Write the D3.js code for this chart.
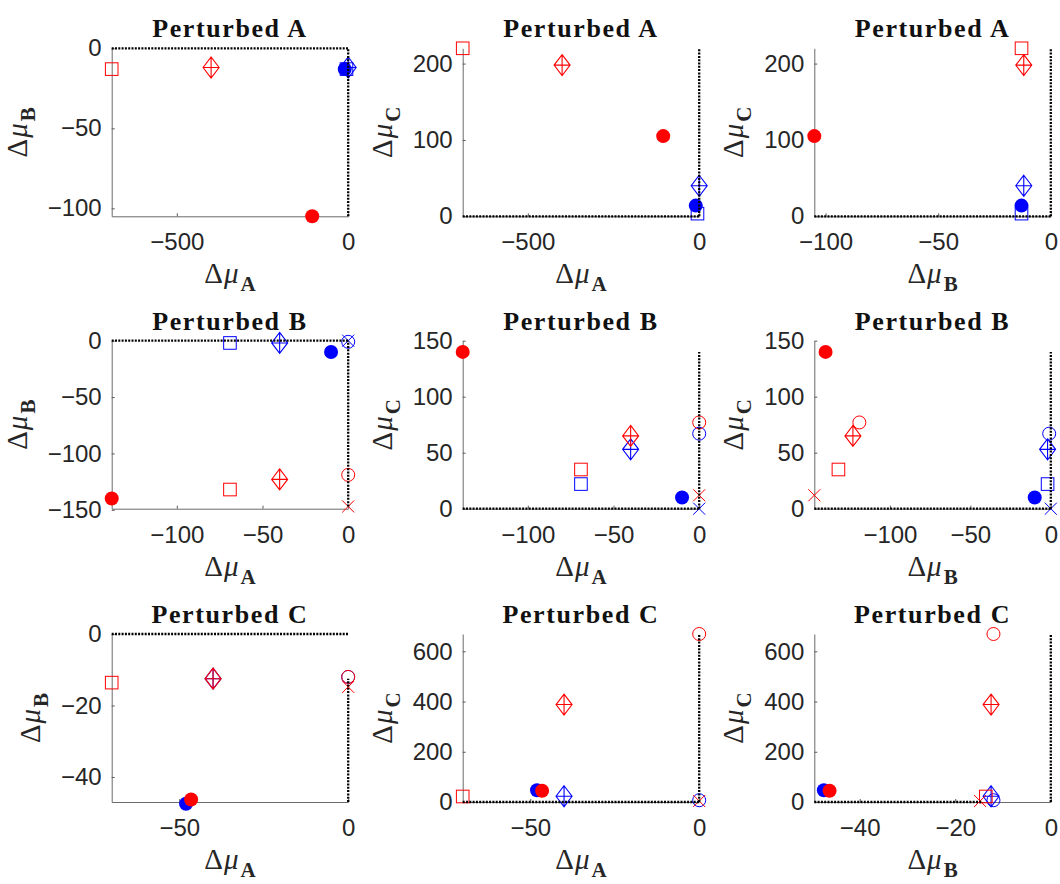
<!DOCTYPE html>
<html>
<head>
<meta charset="utf-8">
<script src="https://cdn.jsdelivr.net/npm/d3@7"></script>
<style>
    body { margin: 0; background: #fff; }
    .tick text { font-family: "Liberation Sans", Arial, sans-serif; font-size: 24px; fill: #262626; }
    .tick line { stroke: #5a5a5a; }
    .domain { stroke: #6a6a6a; }
    .title { font-family: "Liberation Serif", "Times New Roman", serif; font-weight: bold; font-size: 26px; letter-spacing: 1.6px; fill: #111; }
    .label { font-family: "Liberation Serif", "Times New Roman", serif; font-size: 29px; fill: #262626; }
</style>
</head>
<body>
<div id="chart"></div>
<script>
// Data
// ============================================================================
const titles = ["Perturbed A", "Perturbed B", "Perturbed C"];
// which two of A, B, C go on x and y in each column
const pairs = [["A", "B"], ["A", "C"], ["B", "C"]];

// Perturbed A
const markersA = ["blue-filled", "blue-square", "blue-diamond", "red-filled", "red-square", "red-diamond"];
const dMuA_A = [-10, -5, 0, -105, -690, -400];
const dMuB_A = [-13, -13, -12, -105, -13, -12];
const dMuC_A = [14, 3.5, 40, 105, 220, 198];

// Perturbed B
const markersB = ["blue-filled", "blue-circle", "blue-square", "blue-diamond", "blue-cross",
                  "red-filled", "red-circle", "red-square", "red-diamond", "red-cross"];
const dMuA_B = [-10, 0, -69, -40, 0, -138, 0, -69, -40, 0];
const dMuB_B = [-10, -1, -2, -2, 0, -140, -119, -132, -123, -147];
const dMuC_B = [10, 67, 22, 53, 0, 140, 77, 35, 65, 12];

// Perturbed C
const markersC = ["blue-filled", "blue-circle", "blue-diamond",
                  "red-filled", "red-circle", "red-square", "red-diamond", "red-cross"];
const dMuA_C = [-48, 0, -40, -46.5, 0, -70, -40, 0];
const dMuB_C = [-47.5, -12, -12.5, -46.3, -12, -13.6, -12.5, -14.8];
const dMuC_C = [47, 7, 23, 45, 669, 22, 388, 4];

// axis limits, ticks and dotted zero lines, panel by panel (row major)
const xLims = [[-690, 0], [-690, 0], [-105, 0],
               [-138, 0], [-138, 0], [-147, 0],
               [-70, 0], [-70, 0], [-49.5, 0]];
const yLims = [[-105, 0], [0, 220], [0, 220],
               [-149, 0], [0, 150], [0, 150],
               [-47, 0], [0, 669], [0, 669]];
const xTicks = [[-500, 0], [-500, 0], [-100, -50, 0],
                [-100, -50, 0], [-100, -50, 0], [-100, -50, 0],
                [-50, 0], [-50, 0], [-40, -20, 0]];
const yTicks = [[-100, -50, 0], [0, 100, 200], [0, 100, 200],
                [-150, -100, -50, 0], [0, 50, 100, 150], [0, 50, 100, 150],
                [-40, -20, 0], [0, 200, 400, 600], [0, 200, 400, 600]];
// x extent of the dotted line y = 0, and y extent of the dotted line x = 0
const zeroH = [[-690, 0], [-690, 0], [-105, 0],
               [-138, 0], [-138, 0], [-147, 0],
               [-70, 0], [-70, 0], [-49.5, -14.5]];
const zeroV = [[-105, 0], [0, 220], [0, 220],
               [-147, 0], [0, 140], [0, 140],
               [-47, -12.5], [0, 669], [0, 669]];

const markers = [markersA, markersB, markersC];
const values = [
    {A: dMuA_A, B: dMuB_A, C: dMuC_A},
    {A: dMuA_B, B: dMuB_B, C: dMuC_B},
    {A: dMuA_C, B: dMuB_C, C: dMuC_C},
];

// Layout
// ============================================================================
const colLeft = [111.7, 462.7, 814.3],
    rowTop = [48.3, 340.7, 634],
    plotW = 236.5,
    plotH = 168;

const colors = {red: "#ff0000", blue: "#0000ff"};

let svg = d3.select("#chart")
    .append("svg")
        .attr("width", 1060)
        .attr("height", 884);

function drawMarker(g, kind, cx, cy) {
    const [color, shape] = kind.split("-");
    const c = colors[color];
    if (shape === "filled") {
        g.append("circle").attr("cx", cx).attr("cy", cy).attr("r", 7).attr("fill", c);
    } else if (shape === "circle") {
        g.append("circle").attr("cx", cx).attr("cy", cy).attr("r", 6.5)
            .attr("fill", "none").attr("stroke", c).attr("stroke-width", 1);
    } else if (shape === "square") {
        g.append("rect").attr("x", cx - 6.3).attr("y", cy - 6.3).attr("width", 12.6).attr("height", 12.6)
            .attr("fill", "none").attr("stroke", c).attr("stroke-width", 1);
    } else if (shape === "diamond") {
        const w = 8, h = 10.5;
        g.append("path")
            .attr("d", `M${cx},${cy - h}L${cx + w},${cy}L${cx},${cy + h}L${cx - w},${cy}Z` +
                       `M${cx},${cy - h}V${cy + h}M${cx - w},${cy}H${cx + w}`)
            .attr("fill", "none").attr("stroke", c).attr("stroke-width", 1.1);
    } else if (shape === "cross") {
        const s = 6;
        g.append("path")
            .attr("d", `M${cx - s},${cy - s}L${cx + s},${cy + s}M${cx - s},${cy + s}L${cx + s},${cy - s}`)
            .attr("fill", "none").attr("stroke", c).attr("stroke-width", 1);
    }
}

function axisLabel(text, sub) {
    text.append("tspan").text("\u0394");
    text.append("tspan").attr("font-style", "italic").attr("dx", 1).text("\u03bc");
    text.append("tspan").attr("font-weight", "bold").attr("font-size", "21px")
        .attr("dx", 2).attr("dy", 8).text(sub);
}

// Panels
// ============================================================================
titles.forEach((title, r) => {
    pairs.forEach(([xk, yk], c) => {
        const i = r * 3 + c;
        const g = svg.append("g")
            .attr("transform", "translate(" + colLeft[c] + "," + rowTop[r] + ")");

        let xScale = d3.scaleLinear().domain(xLims[i]).range([0, plotW]);
        let yScale = d3.scaleLinear().domain(yLims[i]).range([plotH, 0]);

        // Axes
        g.append("g")
            .attr("transform", "translate(0," + plotH + ")")
            .call(d3.axisBottom(xScale).tickValues(xTicks[i]).tickSize(-3).tickSizeOuter(0).tickPadding(17));

        const yAxis = g.append("g")
            .call(d3.axisLeft(yScale).tickValues(yTicks[i]).tickSize(-3).tickSizeOuter(0).tickPadding(10));

        // Data
        const vals = values[r];
        markers[r].forEach((kind, j) => {
            drawMarker(g, kind, xScale(vals[xk][j]), yScale(vals[yk][j]));
        });

        // Dotted zero lines (on top of the markers)
        g.append("line")
            .attr("x1", xScale(zeroH[i][0]))
            .attr("x2", xScale(zeroH[i][1]))
            .attr("y1", yScale(0))
            .attr("y2", yScale(0))
            .attr("stroke", "black")
            .attr("stroke-width", 2.3)
            .style("stroke-dasharray", "2, 1.3");

        g.append("line")
            .attr("x1", xScale(0))
            .attr("x2", xScale(0))
            .attr("y1", yScale(zeroV[i][0]))
            .attr("y2", yScale(zeroV[i][1]))
            .attr("stroke", "black")
            .attr("stroke-width", 2.3)
            .style("stroke-dasharray", "2, 1.3");

        // Title
        g.append("text")
            .attr("class", "title")
            .attr("x", plotW / 2)
            .attr("y", -11)
            .attr("text-anchor", "middle")
            .text(title);

        // Axis labels
        g.append("text")
            .attr("class", "label")
            .attr("x", plotW / 2)
            .attr("y", plotH + 67)
            .attr("text-anchor", "middle")
            .call(axisLabel, xk);

        const left = yAxis.node().getBBox().x;
        g.append("text")
            .attr("class", "label")
            .attr("transform", "translate(" + (left - 21) + "," + (plotH / 2) + ") rotate(-90)")
            .attr("text-anchor", "middle")
            .call(axisLabel, yk);
    });
});
</script>
</body>
</html>
